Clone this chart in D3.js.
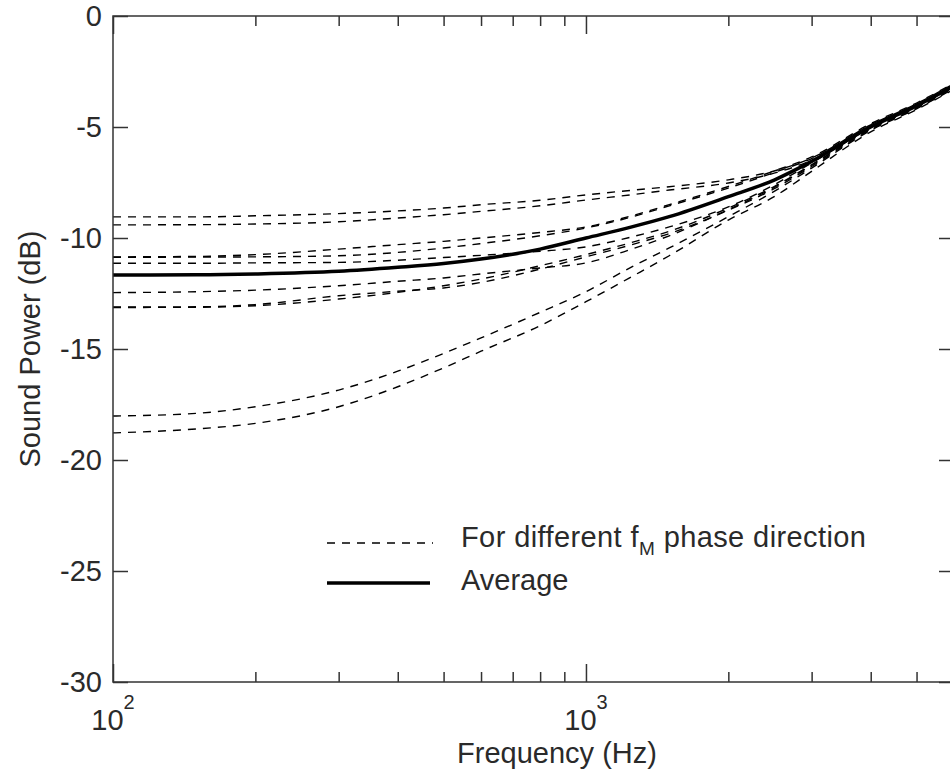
<!DOCTYPE html>
<html>
<head>
<meta charset="utf-8">
<script src="https://cdn.jsdelivr.net/npm/d3@7"></script>
<style>
  body { margin: 0; background: #fff; }
  .chart text { font-family: 'Liberation Sans', Arial, sans-serif; fill: #2a2a2a; }
</style>
</head>
<body>
<div class="chart"></div>
<script>
// Frequencies (Hz) the curves were read at
const freqs = [100, 150, 200, 300, 400, 500, 600, 800, 1000, 1250, 1500, 2000, 2500, 3000, 4000, 5000, 6000];

// Sound power (dB) for each f_M phase direction
const phaseUpper1 = [-9.05, -9.05, -9.0, -8.9, -8.78, -8.65, -8.5, -8.3, -8.06, -7.85, -7.69, -7.38, -6.98, -6.4, -4.9, -3.95, -3.05];
const phaseUpper2 = [-9.41, -9.4, -9.37, -9.27, -9.1, -8.95, -8.8, -8.55, -8.29, -8.05, -7.84, -7.52, -7.08, -6.5, -4.95, -4.0, -3.1];
const phaseMidA = [-10.85, -10.83, -10.75, -10.5, -10.3, -10.15, -10.0, -9.75, -9.5, -9.0, -8.5, -7.68, -6.98, -6.35, -4.85, -3.92, -3.02];
const phaseMidB = [-10.87, -10.86, -10.85, -10.8, -10.65, -10.45, -10.25, -9.9, -9.55, -9.05, -8.55, -7.75, -7.05, -6.42, -4.9, -3.97, -3.07];
const phaseMidC = [-11.14, -11.14, -11.12, -11.1, -11.0, -10.88, -10.78, -10.6, -10.4, -9.95, -9.5, -8.6, -7.6, -6.62, -5.02, -4.07, -3.17];
const phaseMidD = [-12.46, -12.42, -12.35, -12.15, -11.95, -11.8, -11.62, -11.35, -11.12, -10.5, -9.9, -8.72, -7.72, -6.72, -5.08, -4.12, -3.2];
const phaseMidE = [-13.11, -13.1, -13.0, -12.6, -12.4, -12.25, -12.0, -11.4, -10.85, -10.3, -9.8, -8.75, -7.78, -6.78, -5.12, -4.15, -3.24];
const phaseMidF = [-13.13, -13.12, -13.05, -12.75, -12.45, -12.15, -11.85, -11.25, -10.75, -10.2, -9.7, -8.65, -7.68, -6.7, -5.06, -4.1, -3.2];
const phaseLower1 = [-18.02, -17.9, -17.6, -16.85, -16.0, -15.2, -14.5, -13.35, -12.42, -11.3, -10.45, -9.04, -7.9, -6.85, -5.15, -4.18, -3.26];
const phaseLower2 = [-18.78, -18.6, -18.35, -17.6, -16.7, -15.85, -15.1, -13.95, -12.87, -11.74, -10.8, -9.19, -8.14, -7.0, -5.22, -4.22, -3.3];

// Average over the phase directions
const average = [-11.67, -11.66, -11.62, -11.5, -11.32, -11.15, -10.95, -10.5, -10.0, -9.5, -9.04, -8.14, -7.39, -6.55, -5.0, -4.05, -3.15];

// Axis ticks
const yTicks = [0, -5, -10, -15, -20, -25, -30];
const xMajorTicks = [100, 1000];
const xMajorExponents = ['2', '3'];
const xMinorTicks = [200, 300, 400, 500, 600, 700, 800, 900, 2000, 3000, 4000, 5000];

const legendLabels = ['For different f', 'M', ' phase direction', 'Average'];

document.addEventListener('DOMContentLoaded', () => {
  const w = 950;
  const h = 773;
  const left = 113;
  const right = 954;
  const top = 16;
  const bottom = 682;

  const phaseCurves = [
    phaseUpper1, phaseUpper2, phaseMidA, phaseMidB, phaseMidC,
    phaseMidD, phaseMidE, phaseMidF, phaseLower1, phaseLower2,
  ];

  const svg = d3
    .select('.chart')
    .append('svg')
    .attr('width', w)
    .attr('height', h);

  // Scales
  const xScale = d3.scaleLog().domain([100, 6000]).range([left, right]);
  const yScale = d3.scaleLinear().domain([0, -30]).range([top, bottom]);

  const line = d3
    .line()
    .x((d, i) => xScale(freqs[i]))
    .y((d) => yScale(d))
    .curve(d3.curveMonotoneX);

  // Dashed curves
  svg
    .append('g')
    .selectAll('path')
    .data(phaseCurves)
    .enter()
    .append('path')
    .attr('d', line)
    .attr('fill', 'none')
    .attr('stroke', '#000')
    .attr('stroke-width', 1.4)
    .attr('stroke-dasharray', '8,7');

  // Average curve
  svg
    .append('path')
    .attr('d', line(average))
    .attr('fill', 'none')
    .attr('stroke', '#000')
    .attr('stroke-width', 3.5);

  // Frame
  svg
    .append('rect')
    .attr('x', left)
    .attr('y', top)
    .attr('width', right - left)
    .attr('height', bottom - top)
    .attr('fill', 'none')
    .attr('stroke', '#333')
    .attr('stroke-width', 1.5);

  const styleAxis = (g) => {
    g.select('.domain').remove();
    g.selectAll('.tick line').attr('stroke', '#333').attr('stroke-width', 1.5);
    g.selectAll('.tick text')
      .style('font-size', '29px')
      .style('font-family', "'Liberation Sans', Arial, sans-serif")
      .attr('fill', '#2a2a2a');
  };

  // Y axes (ticks inward on both sides)
  svg
    .append('g')
    .attr('transform', `translate(${left},0)`)
    .call(d3.axisLeft(yScale).tickValues(yTicks).tickSize(-15).tickPadding(11).tickFormat((d) => String(d)))
    .call(styleAxis);

  svg
    .append('g')
    .attr('transform', `translate(${right},0)`)
    .call(d3.axisRight(yScale).tickValues(yTicks).tickSize(-15).tickFormat(''))
    .call(styleAxis);

  // X axes, bottom and top
  svg
    .append('g')
    .attr('transform', `translate(0,${bottom})`)
    .call(d3.axisBottom(xScale).tickValues(xMinorTicks).tickSize(-10).tickFormat(''))
    .call(styleAxis);

  svg
    .append('g')
    .attr('transform', `translate(0,${bottom})`)
    .call(d3.axisBottom(xScale).tickValues(xMajorTicks).tickSize(-18).tickFormat(''))
    .call(styleAxis);

  svg
    .append('g')
    .attr('transform', `translate(0,${top})`)
    .call(d3.axisTop(xScale).tickValues(xMinorTicks).tickSize(-10).tickFormat(''))
    .call(styleAxis);

  svg
    .append('g')
    .attr('transform', `translate(0,${top})`)
    .call(d3.axisTop(xScale).tickValues(xMajorTicks).tickSize(-18).tickFormat(''))
    .call(styleAxis);

  // Power-of-ten labels
  const xLabels = svg
    .append('g')
    .selectAll('text')
    .data(xMajorTicks)
    .enter()
    .append('text')
    .attr('x', (d) => xScale(d))
    .attr('y', 730)
    .attr('text-anchor', 'middle')
    .style('font-size', '29px');

  xLabels.append('tspan').text('10');
  xLabels
    .append('tspan')
    .attr('dy', -21)
    .style('font-size', '20px')
    .text((d, i) => xMajorExponents[i]);

  // Axis titles
  svg
    .append('text')
    .attr('x', 557)
    .attr('y', 763)
    .attr('text-anchor', 'middle')
    .style('font-size', '29px')
    .text('Frequency (Hz)');

  svg
    .append('text')
    .attr('transform', 'rotate(-90)')
    .attr('x', -(top + bottom) / 2)
    .attr('y', 40)
    .attr('text-anchor', 'middle')
    .style('font-size', '29px')
    .text('Sound Power (dB)');

  // Legend
  const legend = svg.append('g').attr('id', 'legend');

  legend
    .append('line')
    .attr('x1', 327)
    .attr('x2', 433)
    .attr('y1', 543)
    .attr('y2', 543)
    .attr('stroke', '#000')
    .attr('stroke-width', 1.4)
    .attr('stroke-dasharray', '8,7');

  legend
    .append('line')
    .attr('x1', 327)
    .attr('x2', 430)
    .attr('y1', 583)
    .attr('y2', 583)
    .attr('stroke', '#000')
    .attr('stroke-width', 3.5);

  const firstLabel = legend
    .append('text')
    .attr('x', 461)
    .attr('y', 547)
    .style('font-size', '29px')
    .style('letter-spacing', '0.4px');

  firstLabel.append('tspan').text(legendLabels[0]);
  firstLabel.append('tspan').attr('dy', 8).style('font-size', '19px').text(legendLabels[1]);
  firstLabel.append('tspan').attr('dy', -8).text(legendLabels[2]);

  legend
    .append('text')
    .attr('x', 461)
    .attr('y', 590)
    .style('font-size', '29px')
    .text(legendLabels[3]);
});
</script>
</body>
</html>
